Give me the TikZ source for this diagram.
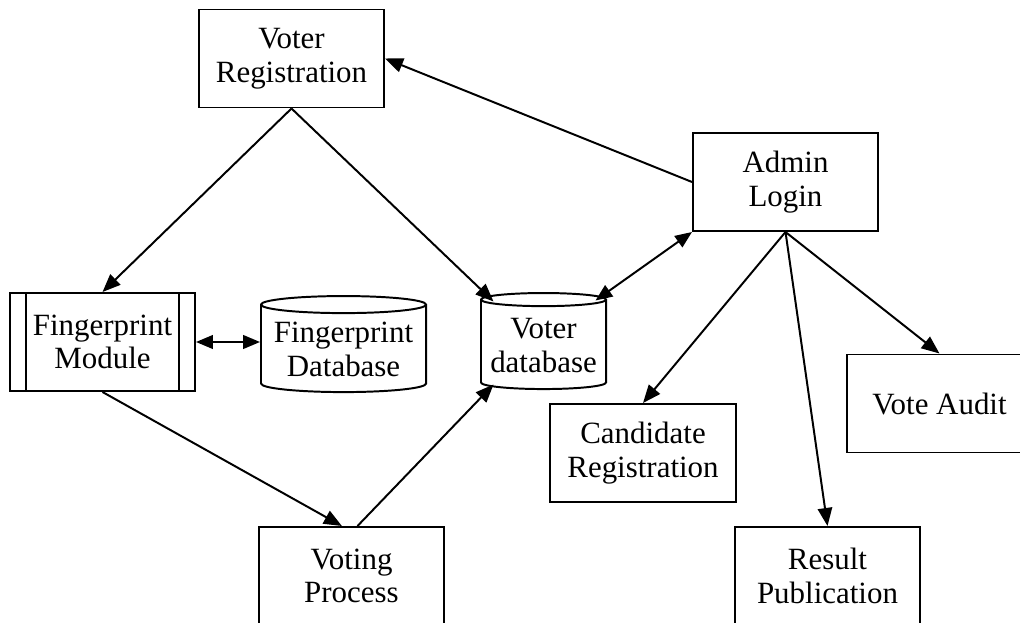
\documentclass[tikz,border=0pt]{standalone}
\usepackage{fontspec}
\setmainfont{Liberation Serif}
\usetikzlibrary{arrows.meta,positioning,shapes.geometric}

\begin{document}
\begin{tikzpicture}[
  x=0.025cm, y=-0.025cm,
  node distance=1.6cm,
  box/.style={
    rectangle,
    draw,
    line width=1.4pt,
    align=center,
    minimum width=4.625cm,
    minimum height=2.45cm,
    font=\fontsize{22}{24}\selectfont
  },
  dbase/.style={
    cylinder,
    shape border rotate=90,
    aspect=0.12,
    draw,
    line width=1.4pt,
    align=center,
    inner sep=1pt,
    minimum height=2.4cm,
    font=\fontsize{22}{24}\selectfont
  },
  arr/.style={-{Triangle[length=0.45cm,width=0.36cm]}, line width=1.4pt},
  darr/.style={{Triangle[length=0.42cm,width=0.34cm]}-{Triangle[length=0.42cm,width=0.34cm]}, line width=1.4pt}
]
\useasboundingbox (0,0) rectangle (1020,623);
\clip (0,0) rectangle (1020,623);

\node[box] (voterreg) at (291.5,58.5) {Voter\\Registration};
\node[box] (admin) at (785.5,182) {Admin\\Login};

\node[box] (fpmodule) at (102.5,342) {Fingerprint\\Module};
\draw[line width=1.4pt] ([xshift=0.425cm]fpmodule.north west) -- ([xshift=0.425cm]fpmodule.south west);
\draw[line width=1.4pt] ([xshift=-0.425cm]fpmodule.north east) -- ([xshift=-0.425cm]fpmodule.south east);

\node[dbase, minimum width=4.125cm, right=of fpmodule, yshift=-0.19cm] (fpdb) {Fingerprint\\Database};
\node[dbase, minimum width=3.125cm] (voterdb) at (543.5,345.5) {Voter\\database};

\node[box] (candreg) at (643,453) {Candidate\\Registration};
\node[box] (audit) at (939.5,403.5) {Vote Audit};
\node[box] (voting) at (351.5,576) {Voting\\Process};
\node[box] (result) at (827.5,576) {Result\\Publication};

\draw[arr] (admin.west) -- (voterreg.east);
\draw[arr] (voterreg.south) -- (fpmodule.north);
\draw[arr] (voterreg.south) -- ([shift={(-50,-44)}]voterdb.center);
\draw[darr] ([shift={(52,-45)}]voterdb.center) -- (admin.south west);
\draw[darr] (fpmodule.east) -- (fpmodule.east -| fpdb.west);
\draw[arr] (fpmodule.south) -- ([xshift=-0.24cm]voting.north);
\draw[arr] ([xshift=0.15cm]voting.north) -- ([shift={(-50,39)}]voterdb.center);
\draw[arr] (admin.south) -- (candreg.north);
\draw[arr] (admin.south) -- (result.north);
\draw[arr] (admin.south) -- (audit.north);
\end{tikzpicture}
\end{document}
